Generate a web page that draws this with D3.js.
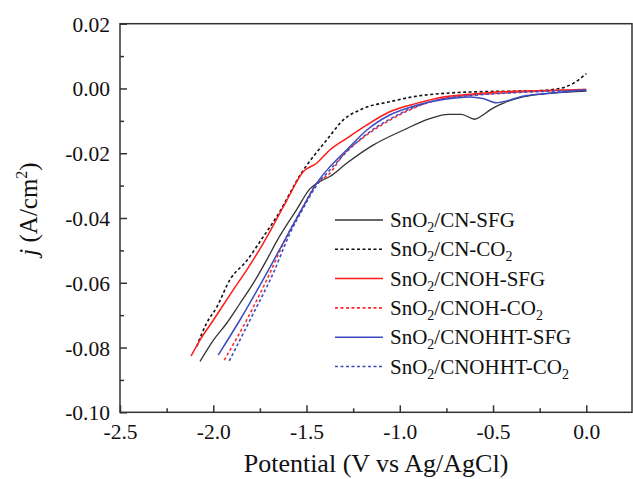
<!DOCTYPE html>
<html>
<head>
<meta charset="utf-8">
<script src="https://cdn.jsdelivr.net/npm/d3@7"></script>
<style>
  html, body { margin: 0; padding: 0; background: #fff; }
  svg { display: block; font-family: "Liberation Serif", "Times New Roman", serif; }
</style>
</head>
<body>
<svg id="chart" width="633" height="479"></svg>
<script>
// ---- data (potential V vs Ag/AgCl, current density A/cm^2) ----
const cnSfg = [[-2.071,-0.0843],[-1.999,-0.0777],[-1.928,-0.0725],[-1.857,-0.0664],[-1.786,-0.0602],[-1.714,-0.0530],[-1.660,-0.0472],[-1.553,-0.0374],[-1.482,-0.0310],[-1.420,-0.0285],[-1.375,-0.0272],[-1.285,-0.0231],[-1.143,-0.0175],[-0.982,-0.0129],[-0.839,-0.0093],[-0.740,-0.0080],[-0.670,-0.0080],[-0.598,-0.0095],[-0.554,-0.0082],[-0.518,-0.0067],[-0.447,-0.0046],[-0.340,-0.0026],[-0.179,-0.0014],[0.000,-0.0008]];
const cnCo2 = [[-2.089,-0.0797],[-2.036,-0.0725],[-1.982,-0.0676],[-1.910,-0.0590],[-1.821,-0.0532],[-1.732,-0.0458],[-1.660,-0.0396],[-1.526,-0.0260],[-1.393,-0.0160],[-1.304,-0.0098],[-1.197,-0.0062],[-1.054,-0.0041],[-0.911,-0.0024],[-0.732,-0.0014],[-0.571,-0.0010],[-0.268,-0.0007],[-0.143,0.0000],[-0.072,0.0015],[0.000,0.0046]];
const cnohSfg = [[-2.119,-0.0826],[-2.071,-0.0777],[-1.999,-0.0715],[-1.964,-0.0684],[-1.893,-0.0622],[-1.821,-0.0561],[-1.732,-0.0478],[-1.607,-0.0347],[-1.518,-0.0257],[-1.446,-0.0231],[-1.375,-0.0190],[-1.285,-0.0154],[-1.178,-0.0113],[-1.054,-0.0072],[-0.911,-0.0046],[-0.768,-0.0026],[-0.625,-0.0018],[-0.447,-0.0010],[-0.268,-0.0007],[0.000,-0.0003]];
const cnohCo2 = [[-1.941,-0.0839],[-1.821,-0.0715],[-1.714,-0.0592],[-1.607,-0.0458],[-1.518,-0.0365],[-1.446,-0.0293],[-1.375,-0.0262],[-1.304,-0.0205],[-1.197,-0.0152],[-1.054,-0.0098],[-0.911,-0.0057],[-0.768,-0.0031],[-0.625,-0.0021],[-0.447,-0.0014],[0.000,-0.0003]];
const cnohhtSfg = [[-1.973,-0.0823],[-1.857,-0.0715],[-1.714,-0.0571],[-1.607,-0.0458],[-1.518,-0.0365],[-1.446,-0.0293],[-1.375,-0.0242],[-1.285,-0.0190],[-1.178,-0.0129],[-1.054,-0.0082],[-0.911,-0.0052],[-0.768,-0.0034],[-0.625,-0.0026],[-0.554,-0.0031],[-0.482,-0.0044],[-0.411,-0.0036],[-0.340,-0.0024],[-0.179,-0.0014],[0.000,-0.0005]];
const cnohhtCo2 = [[-1.914,-0.0841],[-1.803,-0.0715],[-1.679,-0.0571],[-1.589,-0.0448],[-1.518,-0.0370],[-1.446,-0.0299],[-1.375,-0.0252],[-1.285,-0.0196],[-1.178,-0.0141],[-1.054,-0.0095],[-0.911,-0.0055],[-0.768,-0.0032],[-0.625,-0.0022],[-0.447,-0.0015],[0.000,-0.0005]];

const seriesNames = ["CN-SFG","CN-CO","CNOH-SFG","CNOH-CO","CNOHHT-SFG","CNOHHT-CO"];
const seriesSub = [false,true,false,true,false,true];
const xTicks = [-2.5,-2.0,-1.5,-1.0,-0.5,0.0];
const xMinor = [-2.25,-1.75,-1.25,-0.75,-0.25];
const yTicks = [0.02,0.00,-0.02,-0.04,-0.06,-0.08,-0.10];
const yMinor = [0.01,-0.01,-0.03,-0.05,-0.07,-0.09];

// ---- styles ----
const styles = [
  {data: cnSfg, color: "#333333", dash: null, w: 1.3},
  {data: cnCo2, color: "#111111", dash: "3,2.5", w: 1.6},
  {data: cnohSfg, color: "#ff1a1a", dash: null, w: 1.5},
  {data: cnohCo2, color: "#ff2a2a", dash: "3,2.5", w: 1.6},
  {data: cnohhtSfg, color: "#3b4cc0", dash: null, w: 1.5},
  {data: cnohhtCo2, color: "#3b4cc0", dash: "3,2.5", w: 1.6}
];

const svg = d3.select("#chart");
const L = 120, R = 632, T = 23.7, B = 412.3;
const x = d3.scaleLinear().domain([-2.5, 0.245]).range([L, R]);
const y = d3.scaleLinear().domain([-0.10, 0.02]).range([B, T]);
const axisColor = "#333";

// curves
const line = d3.line().x(d => x(d[0])).y(d => y(d[1])).curve(d3.curveMonotoneX);
const plot = svg.append("g");
styles.forEach(s => {
  plot.append("path").datum(s.data)
    .attr("d", line)
    .attr("fill", "none")
    .attr("stroke", s.color)
    .attr("stroke-width", s.w)
    .attr("stroke-dasharray", s.dash)
    .attr("stroke-linejoin", "round");
});

// frame
svg.append("rect").attr("x", L).attr("y", T).attr("width", R - L).attr("height", B - T)
  .attr("fill", "none").attr("stroke", axisColor).attr("stroke-width", 1.5);

// axes (ticks inward)
const fmtX = d => d === 0 ? "0.0" : d3.format(".1f")(d).replace("\u2212", "-");
const fmtY = d => d === 0 ? "0.00" : d3.format(".2f")(d).replace("\u2212", "-");

const xAxis = svg.append("g").attr("transform", `translate(0,${B})`)
  .call(d3.axisBottom(x).tickValues(xTicks).tickSize(-7).tickPadding(14).tickFormat(fmtX));
const xAxisMinor = svg.append("g").attr("transform", `translate(0,${B})`)
  .call(d3.axisBottom(x).tickValues(xMinor).tickSize(-4).tickFormat(""));
const yAxis = svg.append("g").attr("transform", `translate(${L},0)`)
  .call(d3.axisLeft(y).tickValues(yTicks).tickSize(-7).tickPadding(10).tickFormat(fmtY));
const yAxisMinor = svg.append("g").attr("transform", `translate(${L},0)`)
  .call(d3.axisLeft(y).tickValues(yMinor).tickSize(-4).tickFormat(""));

[xAxis, xAxisMinor, yAxis, yAxisMinor].forEach(g => {
  g.attr("font-family", "Liberation Serif, Times New Roman, serif");
  g.select(".domain").remove();
  g.selectAll(".tick line").attr("stroke", axisColor).attr("stroke-width", 1.5);
  g.selectAll(".tick text").attr("fill", "#111").attr("font-size", "21.5px");
});
yAxis.selectAll(".tick text").attr("dy", "0.35em");
xAxis.selectAll(".tick text").attr("dy", "0.71em").attr("y", 11);

// axis titles
svg.append("text").attr("x", 376).attr("y", 472).attr("text-anchor", "middle")
  .attr("font-size", "26px").attr("fill", "#111").text("Potential (V vs Ag/AgCl)");

const yl = svg.append("text").attr("transform", "translate(37,209) rotate(-90)")
  .attr("text-anchor", "middle").attr("font-size", "25px").attr("fill", "#111");
yl.append("tspan").attr("font-style", "italic").text("j");
yl.append("tspan").text(" (A/cm");
yl.append("tspan").attr("font-size", "16px").attr("dy", "-10").text("2");
yl.append("tspan").attr("dy", "10").text(")");

// legend
const leg = svg.append("g");
styles.forEach((s, i) => {
  const cy = 220 + i * 29.3;
  leg.append("line").attr("x1", 335).attr("x2", 383).attr("y1", cy).attr("y2", cy)
    .attr("stroke", s.color).attr("stroke-width", s.w).attr("stroke-dasharray", s.dash);
  const t = leg.append("text").attr("x", 390).attr("y", cy + 7).attr("font-size", "21px").attr("fill", "#111");
  t.append("tspan").text("SnO");
  t.append("tspan").attr("font-size", "14px").attr("dy", "5").text("2");
  t.append("tspan").attr("dy", "-5").text("/" + seriesNames[i]);
  if (seriesSub[i]) {
    t.append("tspan").attr("font-size", "14px").attr("dy", "5").text("2");
  }
});
</script>
</body>
</html>
